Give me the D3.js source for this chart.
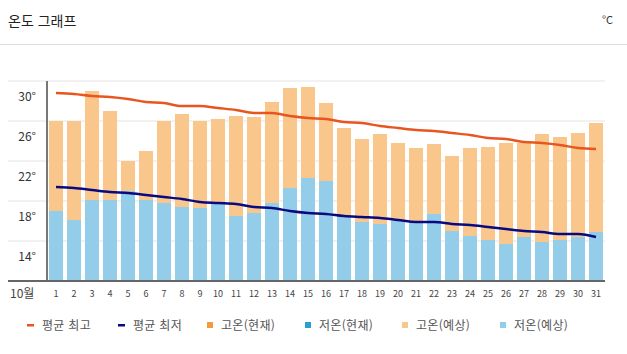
<!DOCTYPE html>
<html lang="ko">
<head>
  <meta charset="UTF-8">
  <title>온도 그래프</title>
  <script src="https://d3js.org/d3.v7.min.js"></script>
  <style>
    body { margin: 0; background: #fff; font-family: "Noto Sans CJK KR", "Noto Sans", sans-serif; }
  </style>
</head>
<body>
  <div id="chart"></div>
  <script>
    // 10월 일별 기온 (°C)
    const days = d3.range(1, 32);
    const avgHigh = [30.8, 30.7, 30.5, 30.4, 30.2, 29.9, 29.8, 29.5, 29.5, 29.3,
                     29.1, 28.8, 28.8, 28.5, 28.3, 28.2, 27.9, 27.8, 27.5, 27.3,
                     27.1, 27.0, 26.8, 26.6, 26.3, 26.2, 25.9, 25.8, 25.6, 25.3, 25.2];
    const avgLow = [21.4, 21.3, 21.1, 20.9, 20.8, 20.6, 20.4, 20.2, 19.9, 19.8,
                    19.7, 19.4, 19.3, 19.0, 18.8, 18.7, 18.5, 18.4, 18.3, 18.1,
                    17.9, 17.9, 17.7, 17.6, 17.4, 17.2, 17.0, 16.9, 16.7, 16.7, 16.4];
    const highForecast = [28.0, 28.0, 31.0, 29.0, 24.0, 25.0, 28.0, 28.7, 28.0, 28.2,
                          28.5, 28.4, 29.9, 31.3, 31.4, 29.8, 27.3, 26.2, 26.7, 25.8,
                          25.3, 25.7, 24.5, 25.3, 25.4, 25.8, 25.8, 26.7, 26.4, 26.8, 27.8];
    const lowForecast = [19.0, 18.1, 20.1, 20.1, 21.0, 20.1, 19.8, 19.4, 19.3, 19.7,
                         18.5, 18.8, 19.8, 21.3, 22.3, 22.0, 18.5, 17.9, 17.7, 18.0,
                         17.9, 18.7, 17.0, 16.5, 16.1, 15.7, 16.4, 15.9, 16.1, 16.4, 16.9];
    const yTicks = [14, 18, 22, 26, 30];
    const gridTicks = [16, 20, 24, 28, 32];
    const legendItems = [
      { label: '평균 최고', color: '#e8561f', type: 'line' },
      { label: '평균 최저', color: '#0a0a80', type: 'line' },
      { label: '고온(현재)', color: '#f59a3c', type: 'rect' },
      { label: '저온(현재)', color: '#2b9fd6', type: 'rect' },
      { label: '고온(예상)', color: '#f9c68c', type: 'rect' },
      { label: '저온(예상)', color: '#93cdea', type: 'rect' }
    ];
    const legendX = [27, 118, 207, 305, 402, 500];

    const width = 627, height = 354;
    const svg = d3.select('#chart').append('svg')
      .attr('width', width).attr('height', height);

    // 제목
    svg.append('text').attr('x', 8).attr('y', 26)
      .attr('font-size', 14).attr('fill', '#222').text('온도 그래프');
    svg.append('text').attr('x', 613).attr('y', 24)
      .attr('text-anchor', 'end').attr('font-size', 11).attr('fill', '#333').text('°C');
    svg.append('line').attr('x1', 0).attr('x2', width).attr('y1', 44.5).attr('y2', 44.5)
      .attr('stroke', '#ddd');

    const x = d3.scaleBand().domain(days).range([47, 605])
      .paddingInner(0.22).paddingOuter(0.11);
    const y = d3.scaleLinear().domain([12, 32]).range([281, 81]);

    // 격자
    svg.append('g').selectAll('line').data(gridTicks).enter().append('line')
      .attr('x1', 8).attr('x2', 605)
      .attr('y1', d => y(d)).attr('y2', d => y(d))
      .attr('stroke', '#eeeeee').attr('stroke-width', 1.5);

    // 고온(예상) 막대
    svg.append('g').selectAll('rect').data(days).enter().append('rect')
      .attr('x', d => x(d)).attr('width', x.bandwidth())
      .attr('y', (d, i) => y(highForecast[i]))
      .attr('height', (d, i) => y(12) - y(highForecast[i]))
      .attr('fill', '#f9c68c');

    // 저온(예상) 막대
    svg.append('g').selectAll('rect').data(days).enter().append('rect')
      .attr('x', d => x(d)).attr('width', x.bandwidth())
      .attr('y', (d, i) => y(lowForecast[i]))
      .attr('height', (d, i) => y(12) - y(lowForecast[i]))
      .attr('fill', '#93cdea');

    // 평균선
    const line = d3.line()
      .x((d, i) => x(days[i]) + x.bandwidth() / 2)
      .y(d => y(d))
      .curve(d3.curveMonotoneX);
    svg.append('path').datum(avgHigh).attr('d', line)
      .attr('fill', 'none').attr('stroke', '#e8561f').attr('stroke-width', 2.5);
    svg.append('path').datum(avgLow).attr('d', line)
      .attr('fill', 'none').attr('stroke', '#0a0a80').attr('stroke-width', 2.5);

    // 축
    svg.append('line').attr('x1', 47).attr('x2', 47).attr('y1', 81).attr('y2', 281)
      .attr('stroke', '#777').attr('stroke-width', 2);
    svg.append('line').attr('x1', 8).attr('x2', 605).attr('y1', 281).attr('y2', 281)
      .attr('stroke', '#666').attr('stroke-width', 2);

    svg.append('g').selectAll('text').data(yTicks).enter().append('text')
      .attr('x', 36).attr('y', d => y(d))
      .attr('text-anchor', 'end').attr('font-size', 12).attr('fill', '#333')
      .text(d => d + '°');

    svg.append('text').attr('x', 10).attr('y', 298)
      .attr('font-size', 12).attr('fill', '#444').text('10월');
    svg.append('g').selectAll('text').data(days).enter().append('text')
      .attr('x', d => x(d) + x.bandwidth() / 2).attr('y', 297)
      .attr('text-anchor', 'middle').attr('font-size', 9).attr('fill', '#444')
      .text(d => d);

    // 범례
    const legend = svg.append('g').selectAll('g').data(legendItems).enter().append('g')
      .attr('transform', (d, i) => `translate(${legendX[i]},325)`);
    legend.filter(d => d.type === 'line').append('rect')
      .attr('x', 0).attr('y', -1).attr('width', 7).attr('height', 2.5)
      .attr('fill', d => d.color);
    legend.filter(d => d.type === 'rect').append('rect')
      .attr('x', 0).attr('y', -3).attr('width', 6).attr('height', 6)
      .attr('fill', d => d.color);
    legend.append('text').attr('x', d => d.type === 'line' ? 15 : 14).attr('y', 4.5)
      .attr('font-size', 12).attr('fill', '#555').attr('letter-spacing', 0.3)
      .text(d => d.label);
  </script>
</body>
</html>
